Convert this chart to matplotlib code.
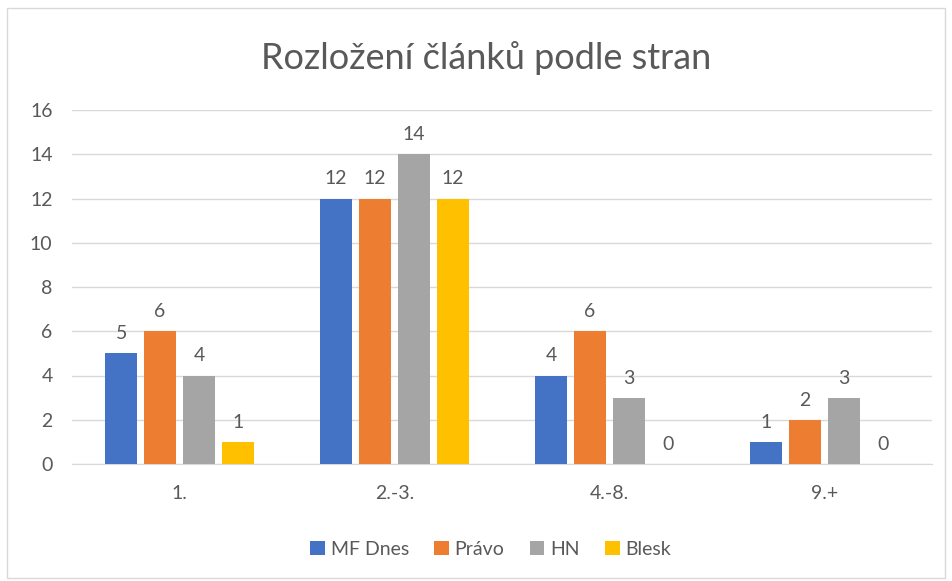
import numpy as np
import matplotlib.pyplot as plt
from matplotlib.patches import Rectangle

plt.rcParams['font.family'] = ['Lato', 'DejaVu Sans']

categories = ['1.', '2.-3.', '4.-8.', '9.+']
series_names = ['MF Dnes', 'Právo', 'HN', 'Blesk']
mf_dnes = [5, 12, 4, 1]
pravo = [6, 12, 6, 2]
hn = [4, 14, 3, 3]
blesk = [1, 12, 0, 0]
colors = ['#4472C4', '#ED7D31', '#A5A5A5', '#FFC000']
text_col = '#595959'

fig = plt.figure(figsize=(9.53, 5.81), dpi=100)
fig.patches.append(Rectangle((7 / 953, 3 / 581), 938 / 953, 570 / 581,
                             transform=fig.transFigure, fill=False,
                             edgecolor='#D9D9D9', linewidth=1))
ax = fig.add_axes([72 / 953, 1 - 464 / 581, 860 / 953, 354 / 581])

x = np.arange(len(categories))
width = 0.149
step = 0.181
for i, (name, vals) in enumerate(zip(series_names, [mf_dnes, pravo, hn, blesk])):
    pos = x + (i - 1.5) * step
    ax.bar(pos, vals, width, color=colors[i], label=name, zorder=3)
    for p, v in zip(pos, vals):
        ax.text(p, v + 0.5, str(v), ha='center', va='bottom',
                fontsize=14, color=text_col)

ax.set_xlim(-0.5, 3.5)
ax.set_ylim(0, 16)
ax.set_yticks(range(0, 17, 2))
ax.set_xticks(x)
ax.set_xticklabels(categories)
ax.yaxis.grid(True, color='#D9D9D9', linewidth=1, zorder=0)
for s in ['top', 'right', 'left']:
    ax.spines[s].set_visible(False)
ax.spines['bottom'].set_color('#D9D9D9')
ax.tick_params(axis='both', length=0, labelsize=14, colors=text_col)
ax.tick_params(axis='x', pad=15)
ax.tick_params(axis='y', pad=14)

fig.text(0.51, 0.9, 'Rozložení článků podle stran', ha='center', va='center',
         fontsize=26, color=text_col)

fig.legend(loc='center', bbox_to_anchor=(0.515, 0.055), ncol=4, frameon=False,
           fontsize=14, handlelength=0.75, handleheight=0.75, handletextpad=0.3,
           columnspacing=1.3, labelcolor=text_col)

fig.savefig('out.png', dpi=100)
